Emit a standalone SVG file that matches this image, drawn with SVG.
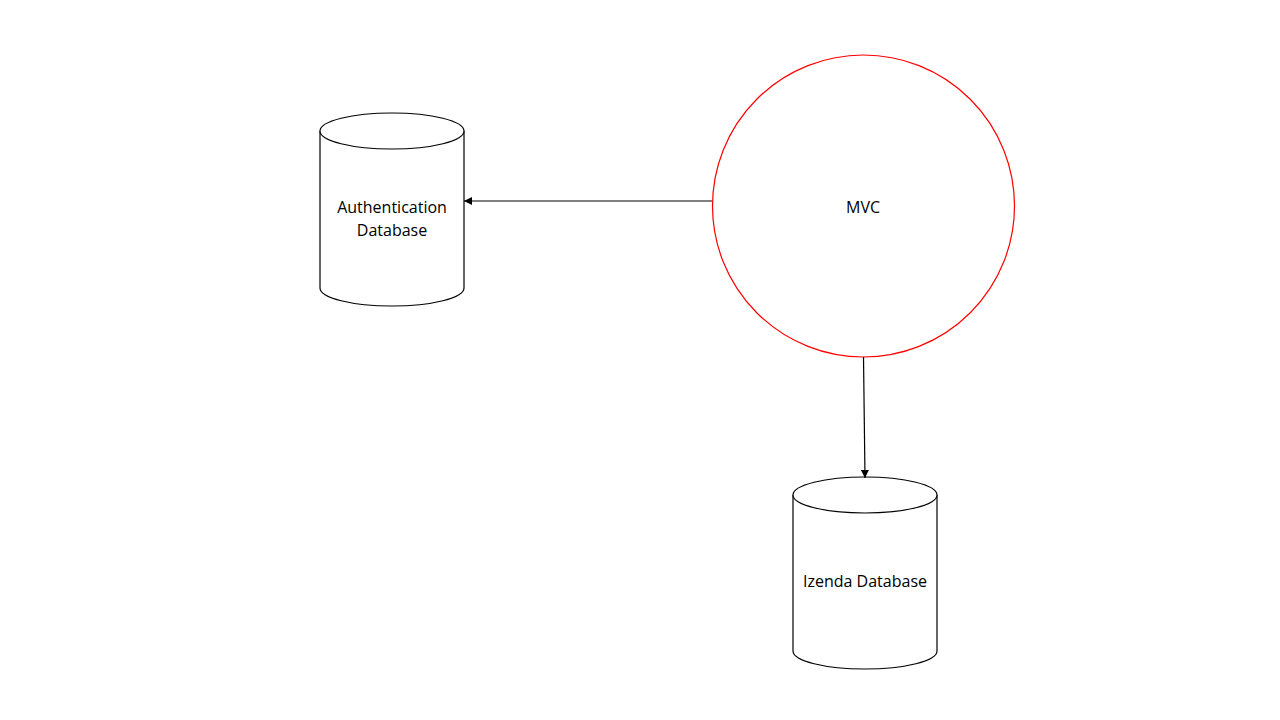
<svg xmlns="http://www.w3.org/2000/svg" width="1280" height="720" viewBox="0 0 1280 720">
<style>
.db{fill:#fff;stroke:#000;stroke-width:1.2}
.lbl{font-family:"Open Sans","Liberation Sans",sans-serif;font-size:16px;fill:#000;text-anchor:middle}
.conn{stroke:#000;stroke-width:1.2;fill:none;marker-end:url(#arr)}
</style>
<defs>
<marker id="arr" viewBox="0 0 10 10" refX="10" refY="5" markerWidth="8" markerHeight="8" markerUnits="userSpaceOnUse" orient="auto">
<path d="M0,0 L10,5 L0,10 z" fill="#000"/>
</marker>
</defs>
<rect width="1280" height="720" fill="#fff"/>
<g id="auth-db">
<path class="db" d="M320,131 L320,288 A72,18 0 0 0 464,288 L464,131 A72,18 0 0 0 320,131 Z"/>
<path class="db" fill="none" d="M320,131 A72,18 0 0 0 464,131"/>
<text class="lbl" x="392" y="213">Authentication</text>
<text class="lbl" x="392" y="236">Database</text>
</g>
<g id="mvc">
<circle cx="863.5" cy="206" r="151" fill="#fff" stroke="#ff0000" stroke-width="1.2"/>
<text class="lbl" x="863" y="213">MVC</text>
</g>
<g id="izenda-db">
<path class="db" d="M793,495 L793,651 A72,18 0 0 0 937,651 L937,495 A72,18 0 0 0 793,495 Z"/>
<path class="db" fill="none" d="M793,495 A72,18 0 0 0 937,495"/>
<text class="lbl" x="865" y="587">Izenda Database</text>
</g>
<g id="connectors">
<line class="conn" x1="712" y1="201" x2="464" y2="201"/>
<line class="conn" x1="863.5" y1="357" x2="865" y2="478"/>
</g>
</svg>
